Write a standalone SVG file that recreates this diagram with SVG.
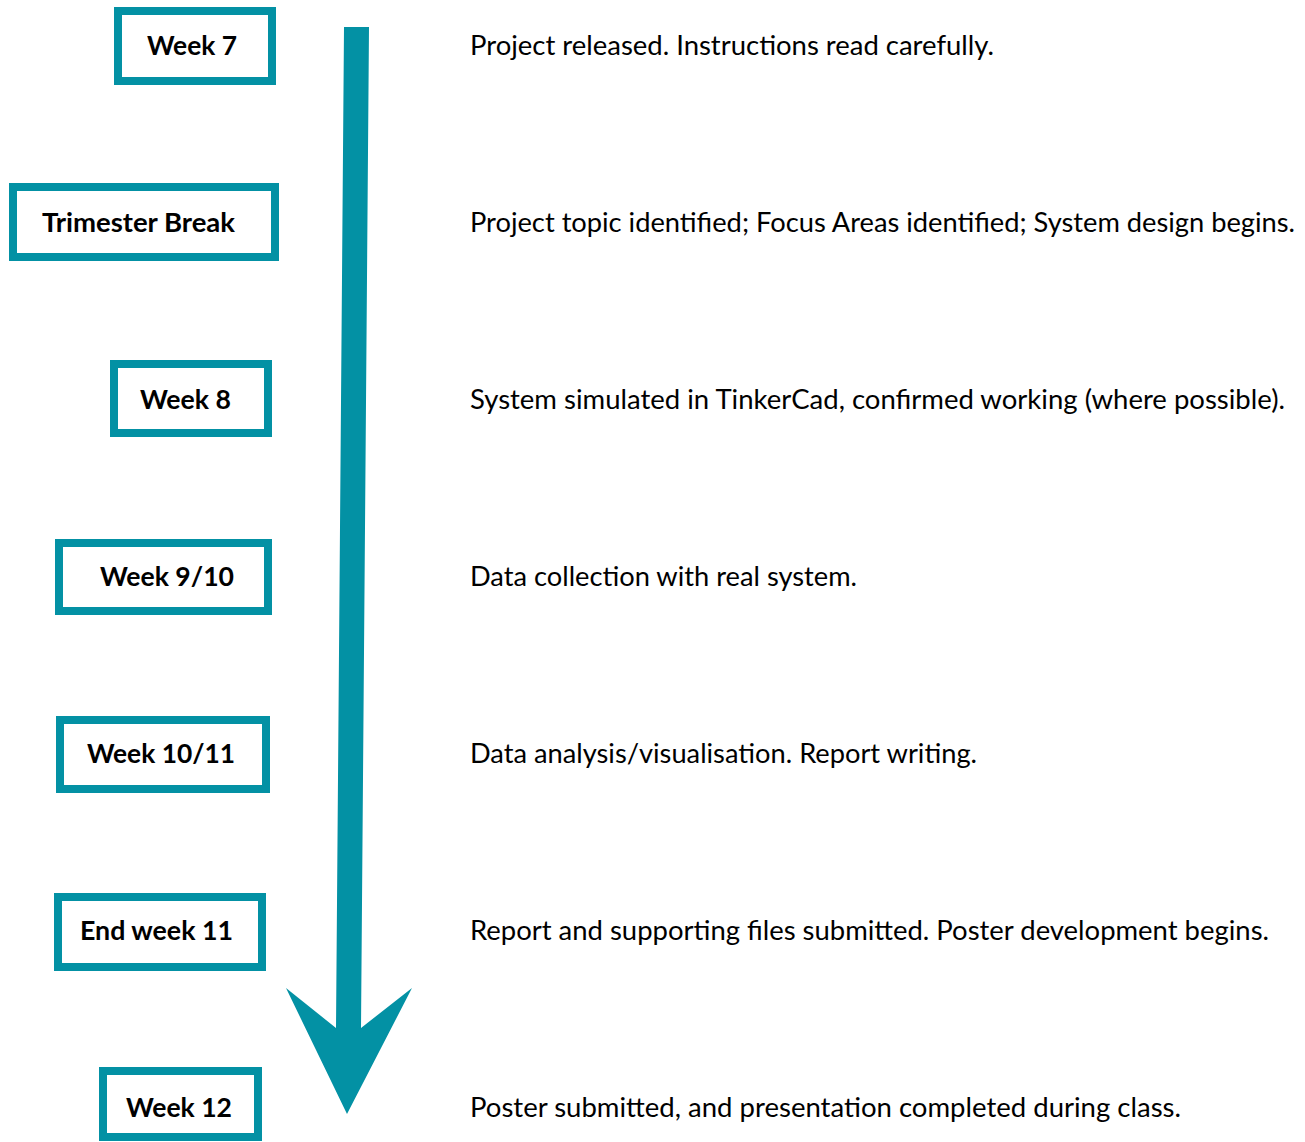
<svg xmlns="http://www.w3.org/2000/svg" width="1305" height="1142" viewBox="0 0 1305 1142">
  <style>
    .box { fill: #ffffff; stroke: #0391a4; stroke-width: 8; }
    .label { font-family: Lato, "Open Sans", "Liberation Sans", sans-serif; font-weight: bold; font-size: 26px; fill: #000000; }
    .desc { font-family: Lato, "Open Sans", "Liberation Sans", sans-serif; font-size: 26px; fill: #000000; }
  </style>
  <rect width="1305" height="1142" fill="#ffffff"/>

  <!-- timeline arrow -->
  <g id="connectors">
    <polygon points="344,27 369,27 361,1028 412,988 347,1114 286,988 336,1028" fill="#0391a4"/>
  </g>

  <g id="week7">
    <rect class="box" x="118" y="11" width="154" height="70"/>
    <text class="label" x="147" y="55" textLength="90" lengthAdjust="spacingAndGlyphs">Week 7</text>
  </g>
  <g id="trimester-break">
    <rect class="box" x="13" y="187" width="262" height="70"/>
    <text class="label" x="42" y="232" textLength="193" lengthAdjust="spacingAndGlyphs">Trimester Break</text>
  </g>
  <g id="week8">
    <rect class="box" x="114" y="364" width="154" height="69"/>
    <text class="label" x="140" y="409" textLength="91" lengthAdjust="spacingAndGlyphs">Week 8</text>
  </g>
  <g id="week9-10">
    <rect class="box" x="59" y="543" width="209" height="68"/>
    <text class="label" x="100" y="586" textLength="134" lengthAdjust="spacingAndGlyphs">Week 9/10</text>
  </g>
  <g id="week10-11">
    <rect class="box" x="60" y="720" width="206" height="69"/>
    <text class="label" x="87" y="763" textLength="148" lengthAdjust="spacingAndGlyphs">Week 10/11</text>
  </g>
  <g id="end-week11">
    <rect class="box" x="58" y="897" width="204" height="70"/>
    <text class="label" x="80" y="940" textLength="153" lengthAdjust="spacingAndGlyphs">End week 11</text>
  </g>
  <g id="week12">
    <rect class="box" x="103" y="1071" width="155" height="66"/>
    <text class="label" x="126" y="1117" textLength="106" lengthAdjust="spacingAndGlyphs">Week 12</text>
  </g>

  <!-- milestone descriptions -->
  <g id="descriptions">
    <text class="desc" x="470" y="55" textLength="524" lengthAdjust="spacingAndGlyphs">Project released. Instructions read carefully.</text>
    <text class="desc" x="470" y="232" textLength="825" lengthAdjust="spacingAndGlyphs">Project topic identified; Focus Areas identified; System design begins.</text>
    <text class="desc" x="470" y="409" textLength="815" lengthAdjust="spacingAndGlyphs">System simulated in TinkerCad, confirmed working (where possible).</text>
    <text class="desc" x="470" y="586" textLength="387" lengthAdjust="spacingAndGlyphs">Data collection with real system.</text>
    <text class="desc" x="470" y="763" textLength="507" lengthAdjust="spacingAndGlyphs">Data analysis/visualisation. Report writing.</text>
    <text class="desc" x="470" y="940" textLength="799" lengthAdjust="spacingAndGlyphs">Report and supporting files submitted. Poster development begins.</text>
    <text class="desc" x="470" y="1117" textLength="711" lengthAdjust="spacingAndGlyphs">Poster submitted, and presentation completed during class.</text>
  </g>
</svg>
